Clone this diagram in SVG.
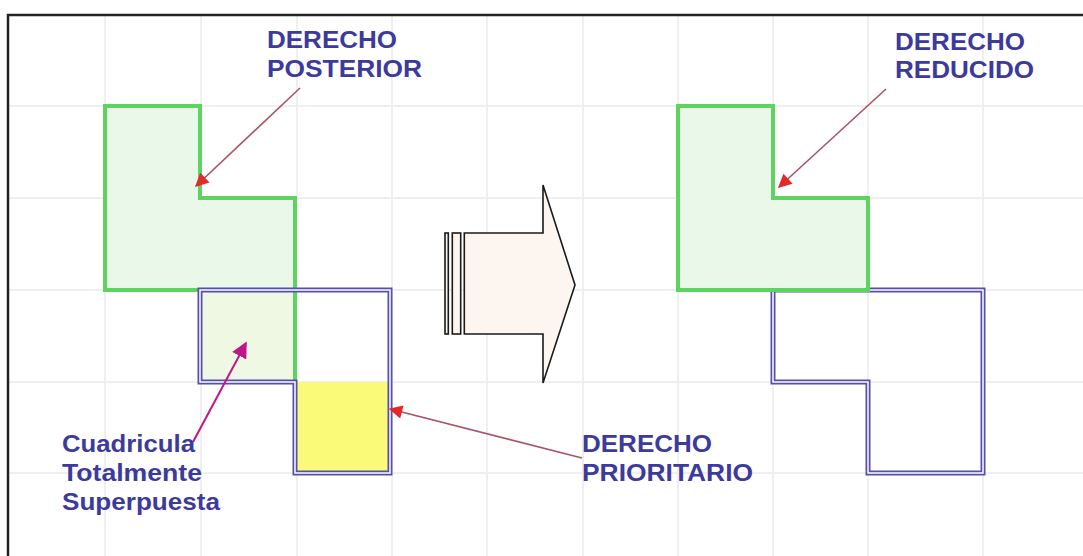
<svg xmlns="http://www.w3.org/2000/svg" width="1083" height="556" viewBox="0 0 1083 556">
<style>
.grid{stroke:#efefef;stroke-width:2;fill:none}
.frame{stroke:#222;stroke-width:2.5;fill:none}
.green{stroke:#5fd35f;stroke-width:4;fill:#e9f8e9;stroke-linejoin:miter}
.blueo{stroke:#564fb0;stroke-width:5;fill:none}
.bluei{stroke:#ffffff;stroke-width:1.5;fill:none}
.lbl{font-family:"Liberation Sans",Arial,sans-serif;font-weight:bold;font-size:24px;fill:#3d3a9e}
.ln{stroke:#a85468;stroke-width:1.6;fill:none}
.lnm{stroke:#c0168a;stroke-width:2;fill:none}
.big{fill:#fdf6f0;stroke:#1a1a1a;stroke-width:1.6}
</style>
<defs>
<marker id="ah" viewBox="0 0 10 10" refX="9" refY="5" markerWidth="9.5" markerHeight="8.5" markerUnits="strokeWidth" orient="auto">
<path d="M0,0 L10,5 L0,10 Z" fill="#e22a2a"/>
</marker>
<marker id="ahm" viewBox="0 0 10 10" refX="9" refY="5" markerWidth="8" markerHeight="8" markerUnits="strokeWidth" orient="auto">
<path d="M0,0 L10,5 L0,10 Z" fill="#c0168a"/>
</marker>
</defs>
<rect width="1083" height="556" fill="#ffffff"/>
<g id="grid" class="grid">
<path d="M105,15V556M201,15V556M297,15V556M392,15V556M487,15V556M583,15V556M678,15V556M773,15V556M868,15V556M983,15V556"/>
<path d="M8,106H1083M8,198H1083M8,290H1083M8,382H1083M8,473H1083"/>
</g>
<g id="frame" class="frame"><path d="M8,556V15H1083"/></g>
<g id="left-shapes">
<g id="derecho-posterior-shape"><path class="green" d="M105,106H200V198H295V382H200V290H105Z"/></g>
<g id="overlap"><rect x="202" y="292" width="91" height="88" fill="#eef8e2"/><path d="M295,290V382" stroke="#5fd35f" stroke-width="4"/></g>
<g id="derecho-prioritario-shape">
<rect x="297" y="382" width="91" height="89" fill="#fbfa78"/>
<path class="blueo" d="M200,290H390V473H295V382H200Z"/>
<path class="bluei" d="M200,290H390V473H295V382H200Z"/>
</g>
</g>
<g id="transform-arrow">
<rect class="big" x="445" y="233" width="3.3" height="101"/>
<rect class="big" x="452.3" y="233" width="8.4" height="101"/>
<path class="big" d="M464.3,233H543V185L575,285L543,383V334H464.3Z"/>
</g>
<g id="right-shapes">
<g id="derecho-reducido-blue">
<path class="blueo" d="M773,290H983V473H868V382H773Z"/>
<path class="bluei" d="M773,290H983V473H868V382H773Z"/>
</g>
<g id="derecho-reducido-shape"><path class="green" d="M678,106H773V198H868V290H678Z"/></g>
</g>
<g id="connectors">
<path class="ln" d="M300,88L196,186" marker-end="url(#ah)"/>
<path class="ln" d="M886,89L779,187" marker-end="url(#ah)"/>
<path class="lnm" d="M193,442L246,343" marker-end="url(#ahm)"/>
<path class="ln" d="M582,458L390,409" marker-end="url(#ah)"/>
</g>
<g id="label-posterior">
<text class="lbl" x="267" y="48" textLength="130" lengthAdjust="spacingAndGlyphs">DERECHO</text>
<text class="lbl" x="267" y="77" textLength="155" lengthAdjust="spacingAndGlyphs">POSTERIOR</text>
</g>
<g id="label-reducido">
<text class="lbl" x="895" y="50" textLength="130" lengthAdjust="spacingAndGlyphs">DERECHO</text>
<text class="lbl" x="895" y="78" textLength="139" lengthAdjust="spacingAndGlyphs">REDUCIDO</text>
</g>
<g id="label-cuadricula">
<text class="lbl" x="62" y="452" textLength="133" lengthAdjust="spacingAndGlyphs">Cuadricula</text>
<text class="lbl" x="62" y="481" textLength="140" lengthAdjust="spacingAndGlyphs">Totalmente</text>
<text class="lbl" x="62" y="510" textLength="158" lengthAdjust="spacingAndGlyphs">Superpuesta</text>
</g>
<g id="label-prioritario">
<text class="lbl" x="582" y="452" textLength="130" lengthAdjust="spacingAndGlyphs">DERECHO</text>
<text class="lbl" x="582" y="481" textLength="171" lengthAdjust="spacingAndGlyphs">PRIORITARIO</text>
</g>
</svg>
